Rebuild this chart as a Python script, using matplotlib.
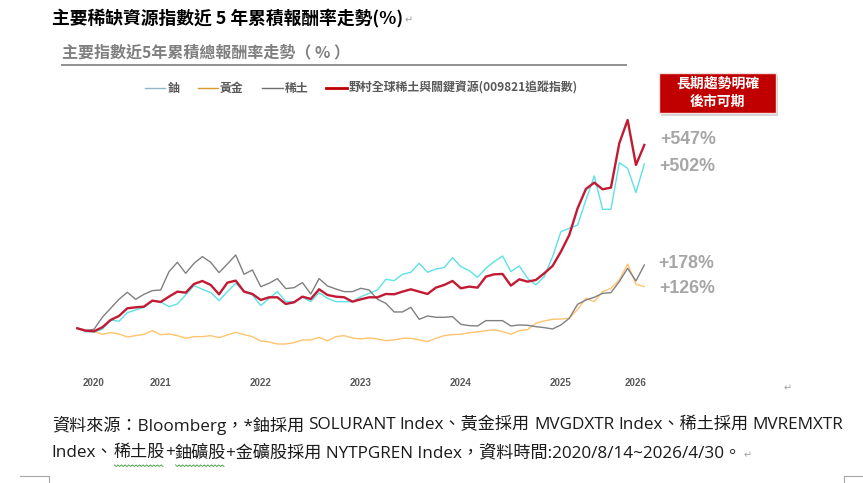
import matplotlib
matplotlib.use('Agg')
import matplotlib.pyplot as plt
from matplotlib.lines import Line2D
from matplotlib.patches import Rectangle

# monthly points, 2020/8 .. 2026/4 (cumulative total return, %)
uranium = [0, -10, -11, -3, 25, 21, 47, 55, 63, 82, 79, 65, 73, 100, 128, 117, 107, 83,
           110, 135, 110, 100, 68, 90, 110, 80, 80, 93, 80, 107, 90, 80, 80, 80, 95,
           105, 115, 147, 143, 162, 168, 195, 168, 178, 182, 212, 185, 173, 153, 180, 200, 217, 170, 187, 150,
           130, 155, 215, 290, 300, 310, 385, 457, 357, 357, 497, 480, 407, 493]
gold = [0, -7, -10, -18, -13, -17, -26, -22, -18, -7, -19, -17, -22, -30, -25, -25, -22, -28,
        -20, -12, -19, -25, -38, -41, -47, -47, -43, -35, -35, -27, -38, -25, -22, -29, -32,
        -29, -32, -37, -35, -30, -30, -35, -40, -30, -22, -19, -18, -13, -11, -7, -5, -10, -18, -7, -4,
        15, 22, 27, 28, 30, 57, 90, 80, 110, 120, 145, 193, 132, 125]
rare_earth = [0, -7, -3, 33, 60, 87, 108, 87, 102, 113, 115, 170, 198, 165, 195, 215, 198, 167,
              193, 220, 162, 175, 125, 135, 149, 119, 122, 137, 103, 149, 127, 118, 110, 110, 120,
              115, 87, 75, 49, 49, 63, 27, 37, 33, 33, 35, 12, 8, 7, 23, 23, 23, 7, 10, 9,
              5, 2, -2, 10, 30, 72, 85, 93, 105, 107, 140, 180, 142, 190]
nomura = [0, -7, -9, 3, 25, 37, 60, 63, 65, 83, 79, 95, 110, 107, 133, 142, 130, 102,
          137, 143, 110, 103, 85, 93, 93, 73, 78, 95, 88, 117, 100, 95, 93, 80, 87,
          93, 93, 103, 102, 110, 117, 110, 103, 122, 130, 142, 120, 125, 122, 155, 162, 163, 128, 147, 140,
          145, 165, 187, 230, 280, 360, 418, 437, 417, 422, 555, 625, 490, 550]
months = list(range(len(nomura)))

year_pos = [2, 10, 22, 34, 46, 58, 67]
year_labels = ['2020', '2021', '2022', '2023', '2024', '2025', '2026']

end_labels = ['+547%', '+502%', '+178%', '+126%']
legend_names = ['鈾', '黃金', '稀土', '野村全球稀土與關鍵資源(009821追蹤指數)']

note_line1 = '資料來源：Bloomberg，*鈾採用 SOLURANT Index、黃金採用 MVGDXTR Index、稀土採用 MVREMXTR'
note_line2 = ['Index、', '稀土股', '+', '鈾礦股', '+金礦股採用 NYTPGREN Index，資料時間:2020/8/14~2026/4/30。']

CJK = ['Noto Sans CJK TC', 'DejaVu Sans']
NOTE = ['Open Sans', 'Noto Sans CJK TC', 'DejaVu Sans']
W, H = 863, 483


def fx(p):
    return p / W


def fy(p):
    return 1 - p / H


fig = plt.figure(figsize=(W / 100, H / 100), dpi=100)
renderer = fig.canvas.get_renderer()


def put(x, y, s, size, family=CJK, color='#1a1a1a', **kw):
    t = fig.text(fx(x), fy(y), s, ha='left', va='center', fontsize=size, family=family,
                 color=color, **kw)
    return x + t.get_window_extent(renderer).width


# chart area (pixel layout of the screenshot)
step = (644.3 - 77.3) / 68
ax = fig.add_axes([fx(60), fy(372), 600 / W, 272 / H])
ax.set_xlim((60 - 77.3) / step, (660 - 77.3) / step)
ax.set_ylim((328.3 - 372) * 3, (328.3 - 100) * 3)
for s in ax.spines.values():
    s.set_visible(False)
ax.set_yticks([])
ax.set_xticks(year_pos, year_labels)
ax.tick_params(axis='x', length=0, pad=4.2, labelsize=7, labelcolor='#595959')
for t in ax.get_xticklabels():
    t.set_fontweight('bold')
    t.set_family('Liberation Sans')

ax.plot(months, gold, color='#FFC46E', lw=1.0)
ax.plot(months, uranium, color='#5CE1E6', lw=1.0)
ax.plot(months, rare_earth, color='#808080', lw=1.0)
ax.plot(months, nomura, color='#C21A33', lw=1.7)

# titles
x = put(52, 18, '主要稀缺資源指數近 5 年累積報酬率走勢(%)', 12.8, color='black', fontweight='bold')
put(x + 1, 20, '↵', 7, color='#a0a0a0')
put(62, 52, '主要指數近5年累積總報酬率走勢（ % ）', 11.5, color='#7f7f7f', fontweight='bold')
fig.add_artist(Line2D([fx(62), fx(626)], [fy(64.5), fy(64.5)], color='#909090', lw=1.4))

# legend
leg_colors = ['#8db8c8', '#d49a30', '#707070', '#C00000']
leg_lw = [1.0, 1.0, 1.0, 2.0]
leg_x = [(145, 165, 168), (198, 218, 220), (262, 283, 285), (326, 347, 349)]
for name, c, lw, (x0, x1, xt) in zip(legend_names, leg_colors, leg_lw, leg_x):
    fig.add_artist(Line2D([fx(x0), fx(x1)], [fy(88.3), fy(88.3)], color=c, lw=lw))
    put(xt, 88.3, name, 8.6, color='#595959', fontweight='bold')

# red call-out box
fig.add_artist(Rectangle((fx(661), fy(116)), (776 - 659) / W, (113.3 - 72.7) / H,
                         transform=fig.transFigure, facecolor='#c4c4c4', edgecolor='none', alpha=0.7))
fig.add_artist(Rectangle((fx(659), fy(113.3)), (776 - 659) / W, (113.3 - 72.7) / H,
                         transform=fig.transFigure, facecolor='#C00000', edgecolor='#f4dede', lw=1.0))
fig.text(fx(717.5), fy(84), '長期趨勢明確', ha='center', va='center', fontsize=10,
         fontweight='bold', family=CJK, color='white')
fig.text(fx(717.5), fy(101.5), '後市可期', ha='center', va='center', fontsize=10,
         fontweight='bold', family=CJK, color='white')

# end values
for lab, (x, y) in zip(end_labels, [(660.5, 140), (659.5, 166.7), (658, 263.3), (659, 288.7)]):
    put(x, y, lab, 12.8, family='Liberation Sans', color='#a6a6a6', fontweight='bold')
fig.text(fx(788), fy(388), '↵', ha='center', va='center', fontsize=7, family=CJK, color='#a0a0a0')


# source note
def wave(x0, x1, y):
    xs, ys = [], []
    k = 0
    x = x0
    while x <= x1:
        xs.append(fx(x))
        ys.append(fy(y + (0.8 if k % 2 else -0.8)))
        x += 1.8
        k += 1
    fig.add_artist(Line2D(xs, ys, color='#3a9a3a', lw=0.6))


NOTE_SIZE = 12.3
# first line is justified between 51.7 and 843 px
words = note_line1.split(' ')
widths = []
for w in words:
    t = fig.text(0, 0, w, fontsize=NOTE_SIZE, family=NOTE)
    widths.append(t.get_window_extent(renderer).width)
    t.remove()
gap = (843 - 51.7 - sum(widths)) / (len(words) - 1)
x = 51.7
for w, wd in zip(words, widths):
    put(x, 425, w, NOTE_SIZE, family=NOTE)
    x += wd + gap

x = 51.7
for k, part in enumerate(note_line2):
    x0 = x
    x = put(x, 453.3, part, NOTE_SIZE, family=NOTE)
    if k in (1, 3):
        wave(x0 + 1, x - 1, 465.7)
put(x + 3, 455, '↵', 7, color='#a0a0a0')

# page corner marks
mc = '#a6a6a6'
fig.add_artist(Line2D([fx(20), fx(49.3), fx(49.3)], [fy(476), fy(476), fy(483)], color=mc, lw=0.8))
fig.add_artist(Line2D([fx(863), fx(844), fx(844)], [fy(476), fy(476), fy(483)], color=mc, lw=0.8))

fig.savefig('out.png', dpi=100)
